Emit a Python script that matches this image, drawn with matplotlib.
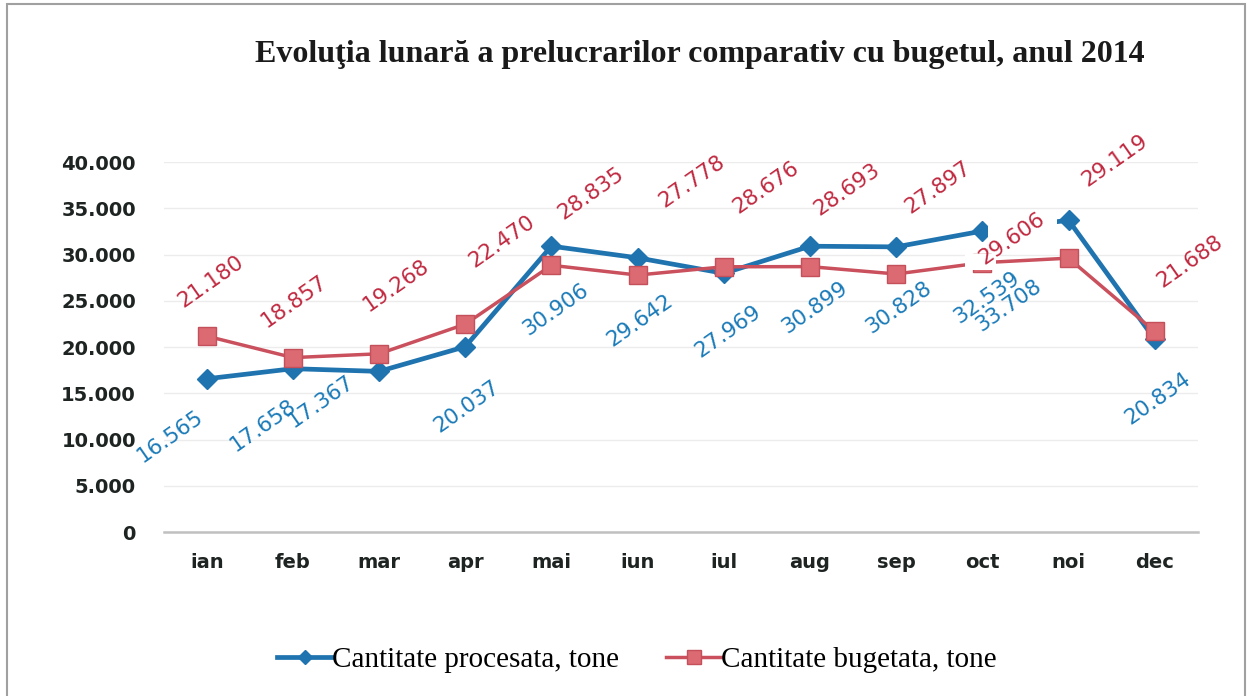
import numpy as np
import matplotlib.pyplot as plt
from matplotlib.patches import Rectangle

# months and monthly quantities (tone)
months = ['ian', 'feb', 'mar', 'apr', 'mai', 'iun', 'iul', 'aug', 'sep', 'oct', 'noi', 'dec']
procesata = [16565, 17658, 17367, 20037, 30906, 29642, 27969, 30899, 30828, 32539, 33708, 20834]
bugetata = [21180, 18857, 19268, 22470, 28835, 27778, 28676, 28693, 27897, 29119, 29606, 21688]

# label texts as they appear on the chart (oct/noi budget labels are swapped in the original)
procesata_labels = ['16.565', '17.658', '17.367', '20.037', '30.906', '29.642',
                    '27.969', '30.899', '30.828', '32.539', '33.708', '20.834']
bugetata_labels = ['21.180', '18.857', '19.268', '22.470', '28.835', '27.778',
                   '28.676', '28.693', '27.897', '29.606', '29.119', '21.688']

# label offsets in pixels from each point (dx, dy up)
blue_off = [(-37, -58), (-30, -57), (-58, -30), (2, -60), (4, -63), (2, -63),
            (4, -58), (5, -61), (3, -61), (4, -66), (-60, -85), (3, -59)]
red_off = [(4, 55), (1, 56), (17, 68), (37, 83), (39, 72), (54, 94),
           (42, 79), (37, 77), (42, 87), (30, 24), (46, 98), (35, 70)]

blue = '#1f74b0'
red = '#c9505c'
blue_txt = '#1a7ab8'
red_txt = '#c02940'

fig = plt.figure(figsize=(12.49, 6.96), dpi=100)
ax = fig.add_axes([0.131, 0.2356, 0.828, 0.5316])

x = np.arange(len(months))
ax.plot(x, procesata, color=blue, lw=3.4, marker='D', markersize=10,
        markerfacecolor=blue, markeredgecolor=blue, label='Cantitate procesata, tone', zorder=3)
ax.plot(x, bugetata, color=red, lw=2.5, marker='s', markersize=13,
        markerfacecolor='#dc6a72', markeredgecolor='#c4505b', label='Cantitate bugetata, tone', zorder=3)

# the oct budget label in the original sits on a white box that hides part of both lines
ax.add_patch(Rectangle((9.07, 31300), 0.8, 3300, facecolor='white', edgecolor='none', zorder=4))
ax.add_patch(Rectangle((8.8, 28300), 0.36, 1800, facecolor='white', edgecolor='none', zorder=4))

for i in range(len(months)):
    ax.annotate(procesata_labels[i], (x[i], procesata[i]), xytext=blue_off[i],
                textcoords='offset pixels', ha='center', va='center', rotation=35,
                fontsize=15.5, color=blue_txt, zorder=5)
    ax.annotate(bugetata_labels[i], (x[i], bugetata[i]), xytext=red_off[i],
                textcoords='offset pixels', ha='center', va='center', rotation=35,
                fontsize=15.5, color=red_txt, zorder=5)

ax.set_xlim(-0.5, 11.5)
ax.set_ylim(0, 40000)
ax.set_yticks(np.arange(0, 40001, 5000))
ax.set_yticklabels(['0' if v == 0 else '{:.3f}'.format(v / 1000) for v in range(0, 40001, 5000)])
ax.set_xticks(x)
ax.set_xticklabels(months)
ax.tick_params(axis='y', length=0, pad=20, labelsize=14, labelcolor='#1e2422')
ax.tick_params(axis='x', length=0, pad=15, labelsize=14, labelcolor='#1e2422')
for lab in ax.get_xticklabels() + ax.get_yticklabels():
    lab.set_fontweight('bold')
ax.grid(axis='y', color='#ececec', lw=1)
ax.set_axisbelow(True)
for s in ['top', 'right', 'left']:
    ax.spines[s].set_visible(False)
ax.spines['bottom'].set_color('#c0c0c0')
ax.spines['bottom'].set_linewidth(1.8)

fig.text(0.5604, 0.922, 'Evoluţia lunară a prelucrarilor comparativ cu bugetul, anul 2014',
         ha='center', va='center', fontsize=23, fontweight='bold',
         family='Liberation Serif', color='#1a1a1a')

fig.legend(loc='center', bbox_to_anchor=(0.51, 0.052), ncol=2, frameon=False,
           prop={'family': 'Liberation Serif', 'size': 21}, handlelength=1.9,
           columnspacing=1.6, handletextpad=0.0, markerscale=0.75)

fig.patches.append(Rectangle((0.006, -0.01), 0.991, 1.004, transform=fig.transFigure,
                             fill=False, edgecolor='#a0a0a0', lw=1.5))

plt.savefig('out.png', dpi=100)
